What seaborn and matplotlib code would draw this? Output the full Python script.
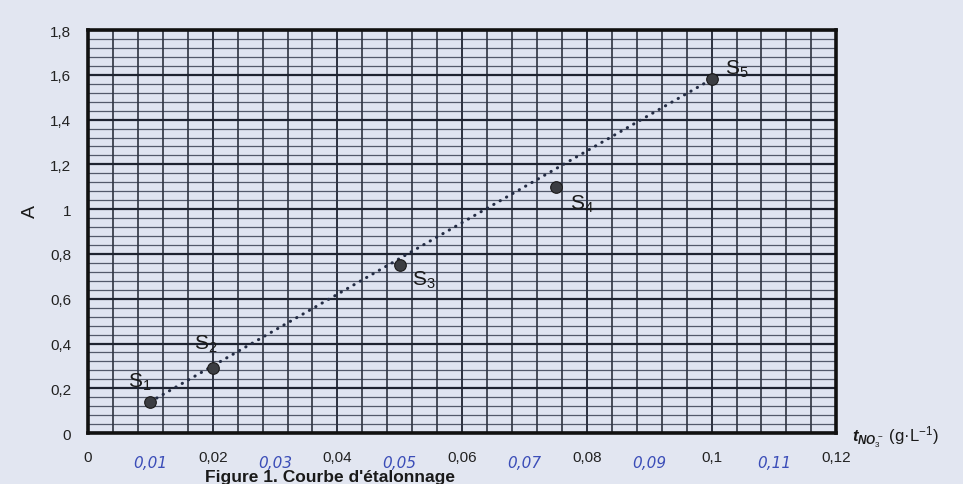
import matplotlib
matplotlib.use("Agg")
import matplotlib.pyplot as plt
import matplotlib.transforms as mtransforms
import numpy as np
import pandas as pd
import seaborn as sns

# calibration points
samples = ["S$_1$", "S$_2$", "S$_3$", "S$_4$", "S$_5$"]
conc = [0.01, 0.02, 0.05, 0.075, 0.10]
absorb = [0.14, 0.29, 0.75, 1.10, 1.58]

x_tick_labels = ["0", "0,02", "0,04", "0,06", "0,08", "0,1", "0,12"]
y_tick_labels = ["0", "0,2", "0,4", "0,6", "0,8", "1", "1,2", "1,4", "1,6", "1,8"]

# blue handwritten values added under the axis
hand_x = [0.01, 0.03, 0.05, 0.07, 0.09, 0.11]
hand_labels = ["0,01", "0,03", "0,05", "0,07", "0,09", "0,11"]

PAPER = "#e2e6f1"
INK = "#1e2331"

sns.set_theme(style="white")
plt.rcParams["font.family"] = ["Liberation Sans", "DejaVu Sans"]
plt.rcParams["mathtext.fontset"] = "custom"
plt.rcParams["mathtext.rm"] = "Liberation Sans"
plt.rcParams["mathtext.it"] = "Liberation Sans:italic:bold"
plt.rcParams["mathtext.bf"] = "Liberation Sans:bold"

df = pd.DataFrame({"sample": samples, "t": conc, "A": absorb})

fig = plt.figure(figsize=(9.63, 4.85), dpi=100, facecolor=PAPER)
ax = fig.add_axes([0.0914, 0.105, 0.777, 0.831])
ax.set_facecolor("#dfe4f1")

ax.set_xlim(0, 0.12)
ax.set_ylim(0, 1.8)
ax.set_xticks(np.linspace(0, 0.12, 7))
ax.set_xticks(np.linspace(0, 0.12, 31), minor=True)
ax.set_yticks(np.linspace(0, 1.8, 10))
ax.set_yticks(np.linspace(0, 1.8, 46), minor=True)
ax.set_xticklabels(x_tick_labels)
ax.set_yticklabels(y_tick_labels)
ax.tick_params(which="both", length=0)
ax.tick_params(axis="x", pad=12, labelsize=11, colors="#222222")
ax.tick_params(axis="y", pad=12, labelsize=11, colors="#222222")

# graph paper
ax.yaxis.grid(True, which="minor", color="#2f3649", lw=0.9, alpha=0.8)
ax.yaxis.grid(True, which="major", color=INK, lw=1.6)
ax.xaxis.grid(True, which="minor", color=INK, lw=1.1)
ax.xaxis.grid(True, which="major", color=INK, lw=1.3)
ax.set_axisbelow(True)
for sp in ax.spines.values():
    sp.set_visible(True)
    sp.set_color("#111111")
    sp.set_linewidth(2.6)

# dotted trend line from first to last standard
trend = df.iloc[[0, -1]]
sns.lineplot(data=trend, x="t", y="A", ax=ax, color="#232c44", lw=2.2,
             linestyle=(0, (0.1, 2.3)), dash_capstyle="round", zorder=3)
sns.scatterplot(data=df, x="t", y="A", ax=ax, color="#3b3d42", s=70,
                edgecolor="#1a1a1a", linewidth=0.8, zorder=4)

offsets = [(-8, 15), (-5, 18), (17, -10), (19, -12), (18, 8)]
for name, xv, yv, off in zip(samples, conc, absorb, offsets):
    ax.annotate(name, (xv, yv), xytext=off, textcoords="offset points",
                ha="center", va="center", fontsize=15, color="#1a1a1a")

ax.set_xlabel("")
ax.set_ylabel("")

# handwritten additions
trans = mtransforms.blended_transform_factory(ax.transData, ax.transAxes)
for xv, lab in zip(hand_x, hand_labels):
    ax.text(xv, -0.073, lab, transform=trans, ha="center", va="center",
            fontsize=11, color="#3b4db8", style="italic",
            family=["DejaVu Sans"])

fig.text(30 / 963, 1 - 212 / 485, "A", rotation=90, ha="center", va="center",
         fontsize=14, color="#1a1a1a")
fig.text(852 / 963, 1 - 437 / 485, r"$t_{NO_3^-}$ (g·L$^{-1}$)",
         ha="left", va="center", fontsize=12, color="#1a1a1a")
fig.text(205 / 963, 1 - 470 / 485, "Figure 1. Courbe d'étalonnage",
         ha="left", va="top", fontsize=12.5, fontweight="bold", color="#1a1a1a")

fig.savefig("out.png", dpi=100, facecolor=PAPER)
